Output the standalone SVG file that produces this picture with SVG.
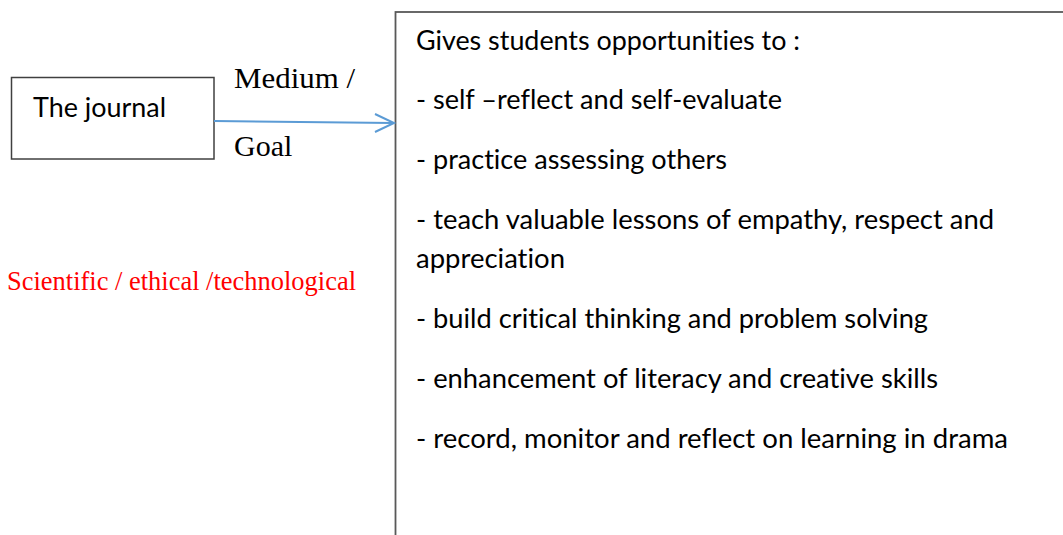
<svg xmlns="http://www.w3.org/2000/svg" width="1063" height="535" viewBox="0 0 1063 535">
<style>
.box{fill:#fff;stroke:#404040;stroke-width:1.5}
.cal{font-family:Lato,"Open Sans","DejaVu Sans",sans-serif;font-size:27px;fill:#000;font-variant-ligatures:none;font-feature-settings:"liga" 0,"dlig" 0}
.tnr{font-family:"Liberation Serif","Times New Roman",serif;font-size:30px;fill:#000}
.red{font-family:"Liberation Serif","Times New Roman",serif;font-size:26.5px;fill:#ff0000}
.conn{fill:none;stroke:#5b9bd5;stroke-width:2}
</style>
<rect width="1063" height="535" fill="#fff"/>
<g id="node-journal">
<rect class="box" x="11.5" y="77.5" width="202.5" height="81.5"/>
<text class="cal" x="33" y="117" textLength="133" lengthAdjust="spacingAndGlyphs">The journal</text>
</g>
<g id="node-opportunities">
<rect x="395.5" y="12" width="700" height="560" fill="#fff" stroke="#595959" stroke-width="1.8"/>
<text class="cal" x="416" y="50" textLength="384" lengthAdjust="spacingAndGlyphs">Gives students opportunities to :</text>
<text class="cal" x="416" y="109" textLength="366" lengthAdjust="spacingAndGlyphs">- self –reflect and self-evaluate</text>
<text class="cal" x="416" y="169" textLength="311" lengthAdjust="spacingAndGlyphs">- practice assessing others</text>
<text class="cal" x="416" y="229" textLength="578" lengthAdjust="spacingAndGlyphs">- teach valuable lessons of empathy, respect and</text>
<text class="cal" x="416" y="268" textLength="149" lengthAdjust="spacingAndGlyphs">appreciation</text>
<text class="cal" x="416" y="328" textLength="512" lengthAdjust="spacingAndGlyphs">- build critical thinking and problem solving</text>
<text class="cal" x="416" y="388" textLength="522" lengthAdjust="spacingAndGlyphs">- enhancement of literacy and creative skills</text>
<text class="cal" x="416" y="448" textLength="592" lengthAdjust="spacingAndGlyphs">- record, monitor and reflect on learning in drama</text>
</g>
<g id="label-medium-goal">
<text class="tnr" x="234" y="88" textLength="121" lengthAdjust="spacingAndGlyphs">Medium /</text>
<text class="tnr" x="234" y="156">Goal</text>
</g>
<g id="label-scientific">
<text class="red" x="7" y="290" textLength="349" lengthAdjust="spacingAndGlyphs">Scientific / ethical /technological</text>
</g>
<g id="connectors">
<path class="conn" d="M214 121 L393 123"/>
<path class="conn" d="M375 114 L394 123 L375 132"/>
</g>
</svg>
